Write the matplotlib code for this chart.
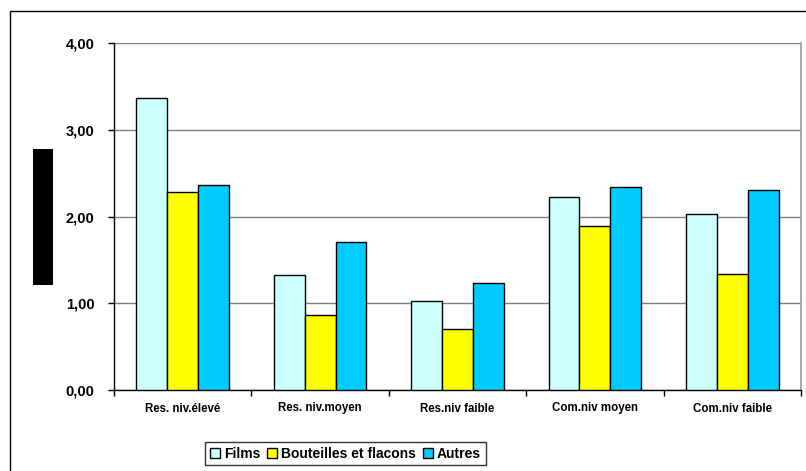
import numpy as np
import matplotlib.pyplot as plt
from matplotlib.patches import Rectangle
from matplotlib.ticker import FuncFormatter, FixedLocator

plt.rcParams['font.family'] = ['Liberation Sans', 'DejaVu Sans']

# ——— Data ———
categories = ["Res. niv.élevé", "Res. niv.moyen", "Res.niv faible",
              "Com.niv moyen", "Com.niv faible"]
series_names = ["Films", "Bouteilles et flacons", "Autres"]
films = [3.37, 1.33, 1.03, 2.23, 2.03]
bouteilles = [2.28, 0.87, 0.70, 1.89, 1.34]
autres = [2.36, 1.71, 1.23, 2.34, 2.30]
yticks = [0, 1, 2, 3, 4]

colors = ["#CCFFFF", "#FFFF00", "#00CCFF"]

# ——— Figure ———
fig = plt.figure(figsize=(8.06, 4.71), dpi=100)
ax = fig.add_axes([114 / 806, 1 - 390 / 471, (801 - 114) / 806, (390 - 43) / 471])

x = np.arange(len(categories))
w = 0.225
for i, (vals, name, col) in enumerate(zip([films, bouteilles, autres], series_names, colors)):
    ax.bar(x + (i - 1) * w, vals, width=w, color=col, edgecolor="black",
           linewidth=1.0, label=name, zorder=3)

ax.set_xlim(-0.5, len(categories) - 0.5)
ax.set_ylim(0, 4)
ax.set_yticks(yticks)
ax.yaxis.set_major_formatter(FuncFormatter(lambda v, p: f"{v:.2f}".replace(".", ",")))
ax.grid(axis="y", color="#7f7f7f", linewidth=1.0, zorder=0)

ax.set_xticks(x)
ax.set_xticklabels(categories, fontsize=8.3, fontweight="bold")
ax.xaxis.set_minor_locator(FixedLocator(np.arange(-0.5, len(categories), 1.0)))
ax.tick_params(axis="x", which="major", length=0, pad=9)
ax.tick_params(axis="x", which="minor", length=4, width=1, color="black", direction="out")
ax.tick_params(axis="y", length=4, width=1, direction="out", pad=10, labelsize=10.5)
for lab in ax.get_yticklabels():
    lab.set_fontweight("bold")

for side in ["left", "bottom"]:
    ax.spines[side].set_color("black")
    ax.spines[side].set_linewidth(1.0)
ax.spines["top"].set_visible(False)
ax.spines["right"].set_color("#999999")
ax.spines["right"].set_linewidth(1.2)

leg = fig.legend(loc="center", bbox_to_anchor=(345.5 / 806, 1 - 453.5 / 471), ncol=3,
                 frameon=True, fancybox=False, edgecolor="black",
                 prop={"weight": "bold", "size": 10}, handlelength=0.7, handleheight=0.7,
                 handletextpad=0.3, columnspacing=0.5, borderpad=0.35)
leg.get_frame().set_linewidth(1.0)

# redacted y label block
fig.patches.append(Rectangle((33 / 806, 1 - 285 / 471), 20 / 806, 136 / 471,
                             transform=fig.transFigure, facecolor="black", edgecolor="none"))
# outer chart border (extends past the right and bottom edges)
fig.patches.append(Rectangle((9.5 / 806, -0.1), 1.2, 1.1 - 11 / 471,
                             transform=fig.transFigure, facecolor="none",
                             edgecolor="black", linewidth=1.0))

fig.savefig("out.png", dpi=100)
